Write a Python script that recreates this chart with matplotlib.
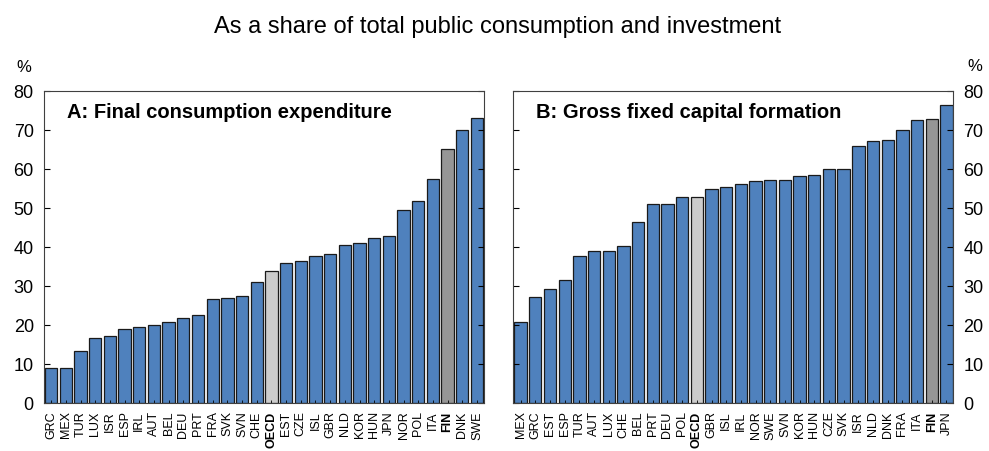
import matplotlib.pyplot as plt

plt.rcParams['font.family'] = ['Liberation Sans', 'DejaVu Sans']

# Panel A: final consumption expenditure
cons_countries = ["GRC", "MEX", "TUR", "LUX", "ISR", "ESP", "IRL", "AUT", "BEL", "DEU",
                  "PRT", "FRA", "SVK", "SVN", "CHE", "OECD", "EST", "CZE", "ISL", "GBR",
                  "NLD", "KOR", "HUN", "JPN", "NOR", "POL", "ITA", "FIN", "DNK", "SWE"]
cons_values = [8.9, 9.1, 13.3, 16.7, 17.1, 19.0, 19.4, 20.0, 20.8, 21.7,
               22.5, 26.6, 26.9, 27.4, 31.0, 33.8, 36.0, 36.4, 37.6, 38.1,
               40.4, 41.1, 42.4, 42.9, 49.6, 51.9, 57.4, 65.2, 70.1, 73.1]

# Panel B: gross fixed capital formation
gfcf_countries = ["MEX", "GRC", "EST", "ESP", "TUR", "AUT", "LUX", "CHE", "BEL", "PRT",
                  "DEU", "POL", "OECD", "GBR", "ISL", "IRL", "NOR", "SWE", "SVN", "KOR",
                  "HUN", "CZE", "SVK", "ISR", "NLD", "DNK", "FRA", "ITA", "FIN", "JPN"]
gfcf_values = [20.7, 27.1, 29.2, 31.5, 37.8, 38.9, 38.9, 40.2, 46.5, 51.0,
               51.0, 52.8, 52.8, 54.8, 55.5, 56.2, 56.9, 57.1, 57.3, 58.1,
               58.4, 60.0, 60.0, 65.8, 67.2, 67.4, 69.9, 72.5, 72.8, 76.4]

BLUE = "#4f81bd"


def bar_colors(names):
    out = []
    for n in names:
        if n == "OECD":
            out.append("#cccccc")
        elif n == "FIN":
            out.append("#969696")
        else:
            out.append(BLUE)
    return out


fig = plt.figure(figsize=(9.89, 4.51), dpi=100)
ax1 = fig.add_axes([0.044, 0.1064, 0.4454, 0.6918])
ax2 = fig.add_axes([0.5187, 0.1064, 0.4454, 0.6918])

panels = [(ax1, cons_countries, cons_values, "A: Final consumption expenditure"),
          (ax2, gfcf_countries, gfcf_values, "B: Gross fixed capital formation")]

for ax, names, vals, title in panels:
    x = range(len(names))
    ax.bar(x, vals, width=0.84, color=bar_colors(names), edgecolor="#1a1a1a", linewidth=0.9)
    ax.set_xlim(-0.52, len(names) - 0.52)
    ax.set_ylim(0, 80)
    ax.set_yticks(range(0, 81, 10))
    ax.set_xticks(list(x))
    ax.set_xticklabels(names, rotation=90, fontsize=9)
    for lbl in ax.get_xticklabels():
        if lbl.get_text() in ("OECD", "FIN"):
            lbl.set_fontweight("bold")
    ax.tick_params(axis="x", direction="in", length=2, pad=6, width=0.6)
    ax.tick_params(axis="y", direction="in", length=4, labelsize=13, pad=7,
                   left=True, right=True)
    for s in ax.spines.values():
        s.set_color("#404040")
        s.set_linewidth(0.8)
    ax.text(0.053, 0.913, title, transform=ax.transAxes, fontsize=14.5,
            fontweight="bold", va="baseline", ha="left")

ax1.tick_params(axis="y", labelleft=True, labelright=False)
ax2.tick_params(axis="y", labelleft=False, labelright=True)

fig.text(0.024, 0.85, "%", fontsize=12, ha="center", va="center")
fig.text(0.986, 0.853, "%", fontsize=12, ha="center", va="center")
fig.text(0.503, 0.927, "As a share of total public consumption and investment",
         fontsize=17, ha="center", va="baseline")

fig.savefig("out.png", dpi=100)
